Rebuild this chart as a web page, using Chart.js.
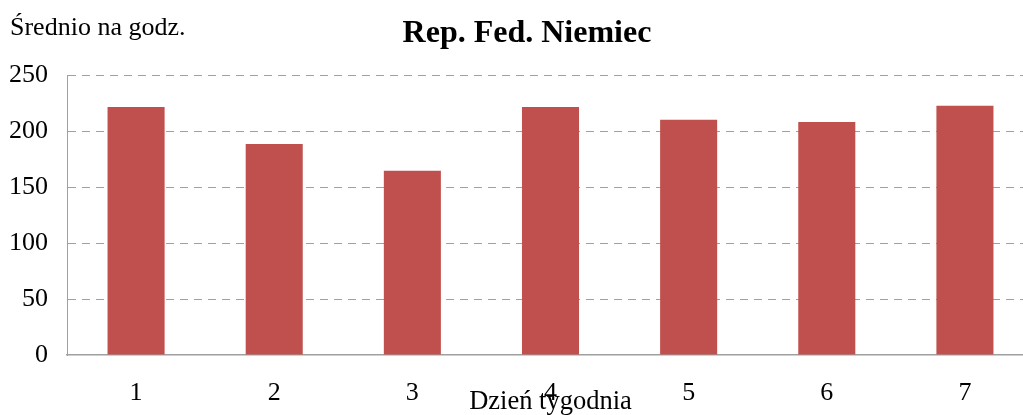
<!DOCTYPE html>
<html>
<head>
<meta charset="utf-8">
<script src="https://cdn.jsdelivr.net/npm/chart.js@4"></script>
<style>
  html, body { margin: 0; padding: 0; background: #fff; overflow: hidden; }
  #wrap { width: 1034px; height: 415px; position: relative; }
</style>
</head>
<body>
<div id="wrap"><canvas id="chart"></canvas></div>
<script>
// Dane wykresu
const dni = ["1", "2", "3", "4", "5", "6", "7"];
const srednio = [221.5, 188.5, 164.5, 221.5, 210, 208, 222.5];
const yTicks = [0, 50, 100, 150, 200, 250];

const tytul = "Rep. Fed. Niemiec";
const tytulY = "Średnio na godz.";
const tytulX = "Dzień tygodnia";

const SERIF = "'Liberation Serif', 'DejaVu Serif', serif";

// Plugin do rysowania tytułów
const napisy = {
  id: "napisy",
  afterDraw(chart) {
    const ctx = chart.ctx;
    const area = chart.chartArea;
    ctx.save();
    ctx.fillStyle = "#000";
    ctx.textBaseline = "alphabetic";

    ctx.font = "26px " + SERIF;
    ctx.textAlign = "left";
    ctx.fillText(tytulY, 10, 35);

    ctx.font = "bold 32px " + SERIF;
    ctx.textAlign = "center";
    ctx.fillText(tytul, 527, 42);

    ctx.font = "26.5px " + SERIF;
    ctx.fillText(tytulX, (area.left + area.right) / 2, 409);
    ctx.restore();
  },
};

const ctx = document.getElementById("chart").getContext("2d");
new Chart(ctx, {
  type: "bar",
  data: {
    labels: dni,
    datasets: [
      {
        data: srednio,
        backgroundColor: "#C0504D",
        categoryPercentage: 1,
        barPercentage: 0.413,
      },
    ],
  },
  options: {
    responsive: true,
    maintainAspectRatio: false,
    animation: false,
    layout: { padding: { top: 75, right: 0, left: 0, bottom: 0 } },
    plugins: {
      legend: { display: false },
      title: { display: false },
      tooltip: { enabled: false },
    },
    scales: {
      x: {
        grid: { display: false },
        border: { display: true, color: "#A0A0A0", width: 1.5 },
        ticks: {
          color: "#000",
          font: { family: SERIF, size: 26 },
          padding: 15,
        },
        afterFit: (scale) => {
          scale.height = 60;
        },
      },
      y: {
        min: 0,
        max: 250,
        afterBuildTicks: (scale) => {
          scale.ticks = yTicks.map((v) => ({ value: v }));
        },
        grid: {
          drawTicks: false,
          color: (c) => (c.tick && c.tick.value === 0 ? "rgba(0,0,0,0)" : "#A0A0A0"),
          lineWidth: 1,
        },
        border: { display: true, color: "#A0A0A0", width: 1, dash: [8, 6] },
        ticks: {
          color: "#000",
          font: { family: SERIF, size: 26 },
          padding: 19,
        },
        afterFit: (scale) => {
          scale.width = 67;
        },
      },
    },
  },
  plugins: [napisy],
});
</script>
</body>
</html>
